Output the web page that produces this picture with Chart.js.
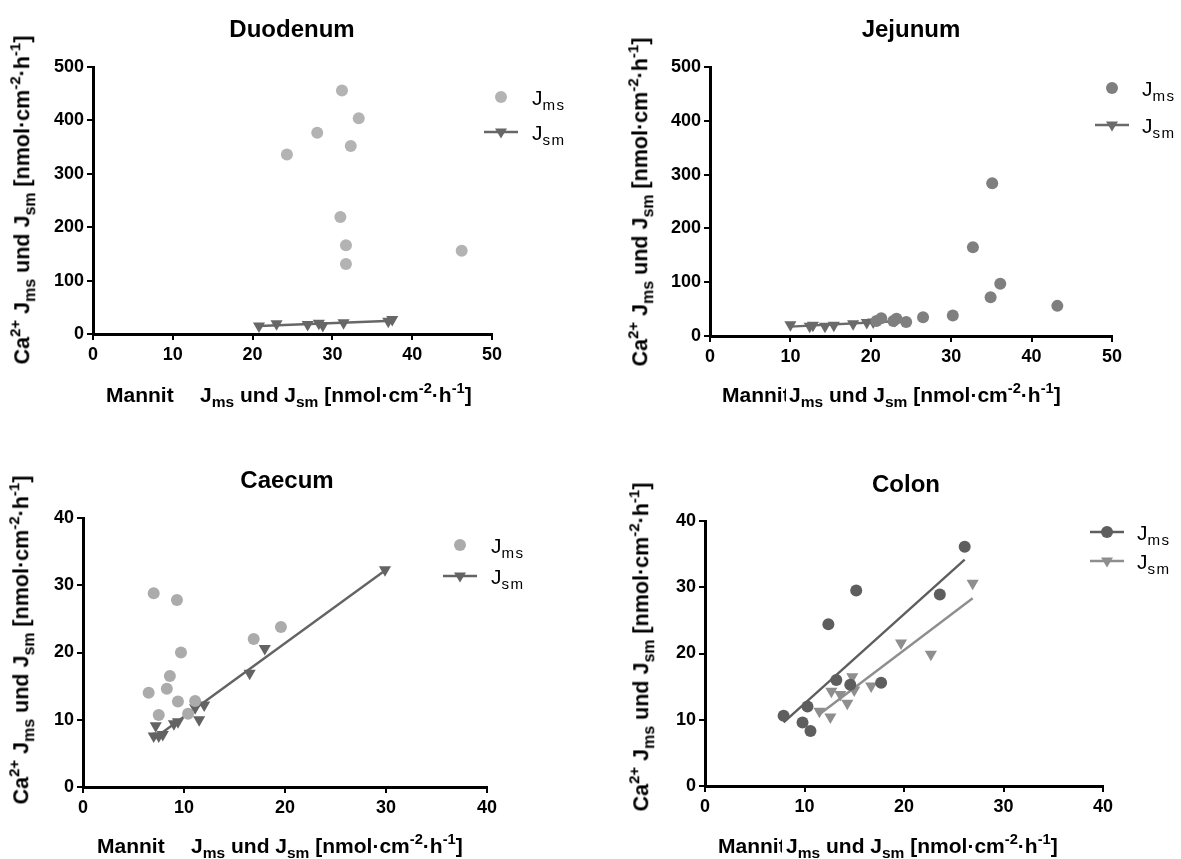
<!DOCTYPE html>
<html>
<head>
<meta charset="utf-8">
<script src="https://cdn.jsdelivr.net/npm/chart.js@4.4.1/dist/chart.umd.min.js"></script>
<style>
  html,body{margin:0;padding:0;background:#fff;}
  #wrap{position:relative;width:1181px;height:859px;background:#fff;overflow:hidden;font-family:"Liberation Sans",Arial,sans-serif;}
  canvas{position:absolute;}
  .t{position:absolute;white-space:nowrap;color:#000;line-height:1;}
  .title{font-weight:bold;font-size:24px;transform:translate(-50%,-50%);}
  .ylab{font-weight:bold;font-size:21.5px;transform:translate(-50%,-50%) rotate(-90deg);}
  .xlab{font-weight:bold;font-size:21px;transform:translateY(-50%);}
  .leg{font-size:21px;transform:translateY(-50%);}
  sub{font-size:74%;vertical-align:-0.35em;line-height:0;}
  sup{font-size:70%;vertical-align:0.6em;line-height:0;}
  .leg sub{letter-spacing:1.5px;font-size:72%;}
  .clip{overflow:hidden;display:inline-block;vertical-align:top;}
</style>
</head>
<body>
<div id="wrap"></div>
<script>
// ---------- data ----------
const duoJmsX = [31.2, 33.3, 28.1, 32.3, 24.3, 31.0, 31.7, 31.7, 46.2];
const duoJmsY = [456, 404, 377, 352, 336, 219, 166, 131, 156];
const duoJsmX = [20.8, 23.0, 26.9, 28.3, 28.8, 31.4, 37.0, 37.5];
const duoJsmY = [15, 19, 18, 20, 16, 21, 24, 27];

const jejJmsX = [20.7, 21.3, 22.8, 23.2, 24.4, 26.5, 30.2, 32.7, 34.9, 35.1, 36.1, 43.2];
const jejJmsY = [28, 33, 28, 32, 26, 35, 38, 165, 72, 284, 97, 56];
const jejJsmX = [10.0, 12.4, 12.8, 14.3, 15.4, 17.8, 19.5, 20.3, 23.0];
const jejJsmY = [21, 18, 20, 18, 20, 23, 25, 26, 29];

const caeJmsX = [7.0, 9.3, 9.7, 19.6, 16.9, 8.6, 8.3, 6.5, 9.4, 11.1, 7.5, 10.4];
const caeJmsY = [28.8, 27.8, 20.0, 23.8, 22.0, 16.5, 14.6, 14.0, 12.7, 12.8, 10.7, 10.9];
const caeJsmX = [7.0, 7.5, 7.9, 7.2, 9.0, 9.4, 11.5, 11.1, 12.0, 16.5, 18.0, 29.9];
const caeJsmY = [7.6, 7.6, 7.8, 9.1, 9.4, 9.7, 10.0, 11.8, 12.2, 16.9, 20.6, 32.3];

const colJmsX = [26.1, 15.2, 23.6, 12.4, 13.2, 14.6, 17.7, 10.3, 7.9, 9.8, 10.6];
const colJmsY = [36.1, 29.5, 28.9, 24.4, 16.0, 15.3, 15.6, 12.0, 10.6, 9.6, 8.3];
const colJsmX = [26.9, 19.7, 22.7, 14.8, 16.7, 12.7, 13.6, 15.0, 14.3, 11.5, 12.6];
const colJsmY = [30.6, 21.6, 19.9, 16.5, 15.1, 14.3, 13.8, 14.5, 12.5, 11.3, 10.4];

const titles = ["Duodenum", "Jejunum", "Caecum", "Colon"];
const xTicks1 = [0, 10, 20, 30, 40, 50];
const yTicks1 = [0, 100, 200, 300, 400, 500];
const xTicks2 = [0, 10, 20, 30, 40];
const yTicks2 = [0, 10, 20, 30, 40];

// ---------- helpers ----------
function pts(xs, ys){ return xs.map((x,i)=>({x:x, y:ys[i]})); }
function fit(xs, ys){
  const n = xs.length;
  const mx = xs.reduce((a,b)=>a+b,0)/n, my = ys.reduce((a,b)=>a+b,0)/n;
  let sxy=0, sxx=0;
  for(let i=0;i<n;i++){ sxy+=(xs[i]-mx)*(ys[i]-my); sxx+=(xs[i]-mx)*(xs[i]-mx); }
  const b = sxy/sxx, a = my-b*mx;
  const x0 = Math.min(...xs), x1 = Math.max(...xs);
  return [{x:x0,y:a+b*x0},{x:x1,y:a+b*x1}];
}

const wrap = document.getElementById('wrap');
function addText(cls, html, x, y){
  const d = document.createElement('div');
  d.className = 't '+cls; d.innerHTML = html;
  d.style.left = x+'px'; d.style.top = y+'px';
  wrap.appendChild(d); return d;
}

const YLAB = 'Ca<sup>2+</sup> J<sub>ms</sub> und J<sub>sm</sub> [nmol·cm<sup>-2</sup>·h<sup>-1</sup>]';
const XLAB = 'J<sub>ms</sub> und J<sub>sm</sub> [nmol·cm<sup>-2</sup>·h<sup>-1</sup>]';

function legendMarker(x, y, kind, color, line){
  const ns = 'http://www.w3.org/2000/svg';
  const s = document.createElementNS(ns,'svg');
  s.setAttribute('width','40'); s.setAttribute('height','20');
  s.style.position='absolute'; s.style.left=(x-20)+'px'; s.style.top=(y-10)+'px';
  if(line){
    const l = document.createElementNS(ns,'line');
    l.setAttribute('x1','3'); l.setAttribute('x2','37'); l.setAttribute('y1','10'); l.setAttribute('y2','10');
    l.setAttribute('stroke',color); l.setAttribute('stroke-width','2.5');
    s.appendChild(l);
  }
  if(kind==='circle'){
    const c = document.createElementNS(ns,'circle');
    c.setAttribute('cx','20'); c.setAttribute('cy','10'); c.setAttribute('r','6'); c.setAttribute('fill',color);
    s.appendChild(c);
  } else {
    const p = document.createElementNS(ns,'polygon');
    p.setAttribute('points','14,6.5 26,6.5 20,16.5'); p.setAttribute('fill',color);
    s.appendChild(p);
  }
  wrap.appendChild(s);
}

// ---------- panel builder ----------
function panel(cfg){
  const cv = document.createElement('canvas');
  cv.width = cfg.W; cv.height = cfg.H;
  cv.style.left = cfg.L+'px'; cv.style.top = cfg.T+'px';
  cv.style.width = cfg.W+'px'; cv.style.height = cfg.H+'px';
  wrap.appendChild(cv);
  const YW = 45, XH = 35;
  const a = cfg.area;
  const pad = {
    top: a.t - cfg.T,
    left: a.l - cfg.L - YW,
    right: (cfg.L+cfg.W) - a.r,
    bottom: (cfg.T+cfg.H) - a.b - XH
  };
  const tickFont = {family:'"Liberation Sans", Arial, sans-serif', weight:'bold', size:18};
  const axisCommon = {
    type:'linear',
    grid:{display:true, drawOnChartArea:false, drawTicks:true, tickLength:6, color:'#000', lineWidth:2},
    border:{display:true, color:'#000', width:3},
  };
  const datasets = [];
  cfg.series.forEach(s=>{
    datasets.push({
      type:'scatter', data: pts(s.x, s.y),
      pointStyle: s.marker==='circle' ? 'circle' : 'triangle',
      rotation: s.marker==='circle' ? 0 : 180,
      pointRadius: s.marker==='circle' ? 6 : 7,
      backgroundColor: s.color, borderColor: s.color, borderWidth: 0,
      showLine:false, clip:false, order: s.order || 0
    });
    if(s.fit){
      datasets.push({
        type:'line', data: fit(s.x, s.y), borderColor: s.color, borderWidth: 2.4,
        pointRadius:0, fill:false, showLine:true, clip:false, order: 5
      });
    }
  });
  new Chart(cv.getContext('2d'), {
    data:{datasets},
    options:{
      responsive:false, animation:false, devicePixelRatio:1,
      layout:{padding:pad},
      plugins:{legend:{display:false}, tooltip:{enabled:false}, title:{display:false}},
      scales:{
        x: Object.assign({}, axisCommon, {
          min:cfg.xTicks[0], max:cfg.xTicks[cfg.xTicks.length-1],
          afterBuildTicks:(sc)=>{ sc.ticks = cfg.xTicks.map(v=>({value:v})); },
          afterFit:(sc)=>{ sc.height = XH; },
          ticks:{color:'#000', font:tickFont, padding:4, maxRotation:0, autoSkip:false}
        }),
        y: Object.assign({}, axisCommon, {
          min:cfg.yTicks[0], max:cfg.yTicks[cfg.yTicks.length-1],
          afterBuildTicks:(sc)=>{ sc.ticks = cfg.yTicks.map(v=>({value:v})); },
          afterFit:(sc)=>{ sc.width = YW; },
          ticks:{color:'#000', font:tickFont, padding:3, autoSkip:false}
        })
      }
    }
  });
  // texts
  addText('title', cfg.title, cfg.titlePos[0], cfg.titlePos[1]);
  addText('ylab', YLAB, cfg.yLabPos[0], cfg.yLabPos[1]);
  addText('xlab', '<span class="clip" style="width:'+cfg.mannitW+'px">Mannit</span>', cfg.mannitPos[0], cfg.mannitPos[1]);
  addText('xlab', XLAB, cfg.xLabPos[0], cfg.xLabPos[1]);
  cfg.legend.forEach(r=>{
    legendMarker(r.mx, r.y, r.kind, r.color, r.line);
    addText('leg', r.html, r.tx, r.y);
  });
}

const JMS = 'J<sub>ms</sub>', JSM = 'J<sub>sm</sub>';

panel({
  L:0, T:0, W:590, H:430, area:{l:93, t:67, r:492, b:334},
  xTicks:xTicks1, yTicks:yTicks1, title:titles[0],
  titlePos:[292,29], yLabPos:[23,200], mannitPos:[106,394], mannitW:72, xLabPos:[200,394],
  series:[
    {x:duoJmsX, y:duoJmsY, marker:'circle', color:'#b3b3b3', fit:false},
    {x:duoJsmX, y:duoJsmY, marker:'triangle', color:'#676767', fit:true}
  ],
  legend:[
    {mx:501, tx:532, y:97, kind:'circle', color:'#b3b3b3', line:false, html:JMS},
    {mx:501, tx:532, y:132, kind:'triangle', color:'#676767', line:true, html:JSM}
  ]
});
panel({
  L:590, T:0, W:591, H:430, area:{l:710, t:67, r:1112, b:336},
  xTicks:xTicks1, yTicks:yTicks1, title:titles[1],
  titlePos:[911,29], yLabPos:[641,202], mannitPos:[722,394], mannitW:64, xLabPos:[789,394],
  series:[
    {x:jejJmsX, y:jejJmsY, marker:'circle', color:'#7f7f7f', fit:false},
    {x:jejJsmX, y:jejJsmY, marker:'triangle', color:'#6a6a6a', fit:true}
  ],
  legend:[
    {mx:1112, tx:1142, y:88, kind:'circle', color:'#7f7f7f', line:false, html:JMS},
    {mx:1112, tx:1142, y:125, kind:'triangle', color:'#6a6a6a', line:true, html:JSM}
  ]
});
panel({
  L:0, T:430, W:590, H:429, area:{l:83, t:518, r:487, b:787},
  xTicks:xTicks2, yTicks:yTicks2, title:titles[2],
  titlePos:[287,480], yLabPos:[22,640], mannitPos:[97,845], mannitW:72, xLabPos:[191,845],
  series:[
    {x:caeJmsX, y:caeJmsY, marker:'circle', color:'#ababab', fit:false},
    {x:caeJsmX, y:caeJsmY, marker:'triangle', color:'#636363', fit:true}
  ],
  legend:[
    {mx:460, tx:491, y:545, kind:'circle', color:'#ababab', line:false, html:JMS},
    {mx:460, tx:491, y:576, kind:'triangle', color:'#636363', line:true, html:JSM}
  ]
});
panel({
  L:590, T:430, W:591, H:429, area:{l:705, t:521, r:1103, b:786},
  xTicks:xTicks2, yTicks:yTicks2, title:titles[3],
  titlePos:[906,484], yLabPos:[642,647], mannitPos:[718,845], mannitW:64, xLabPos:[786,845],
  series:[
    {x:colJmsX, y:colJmsY, marker:'circle', color:'#5e5e5e', fit:true},
    {x:colJsmX, y:colJsmY, marker:'triangle', color:'#8e8e8e', fit:true}
  ],
  legend:[
    {mx:1107, tx:1137, y:532, kind:'circle', color:'#5e5e5e', line:true, html:JMS},
    {mx:1107, tx:1137, y:561, kind:'triangle', color:'#8e8e8e', line:true, html:JSM}
  ]
});
</script>
</body>
</html>
